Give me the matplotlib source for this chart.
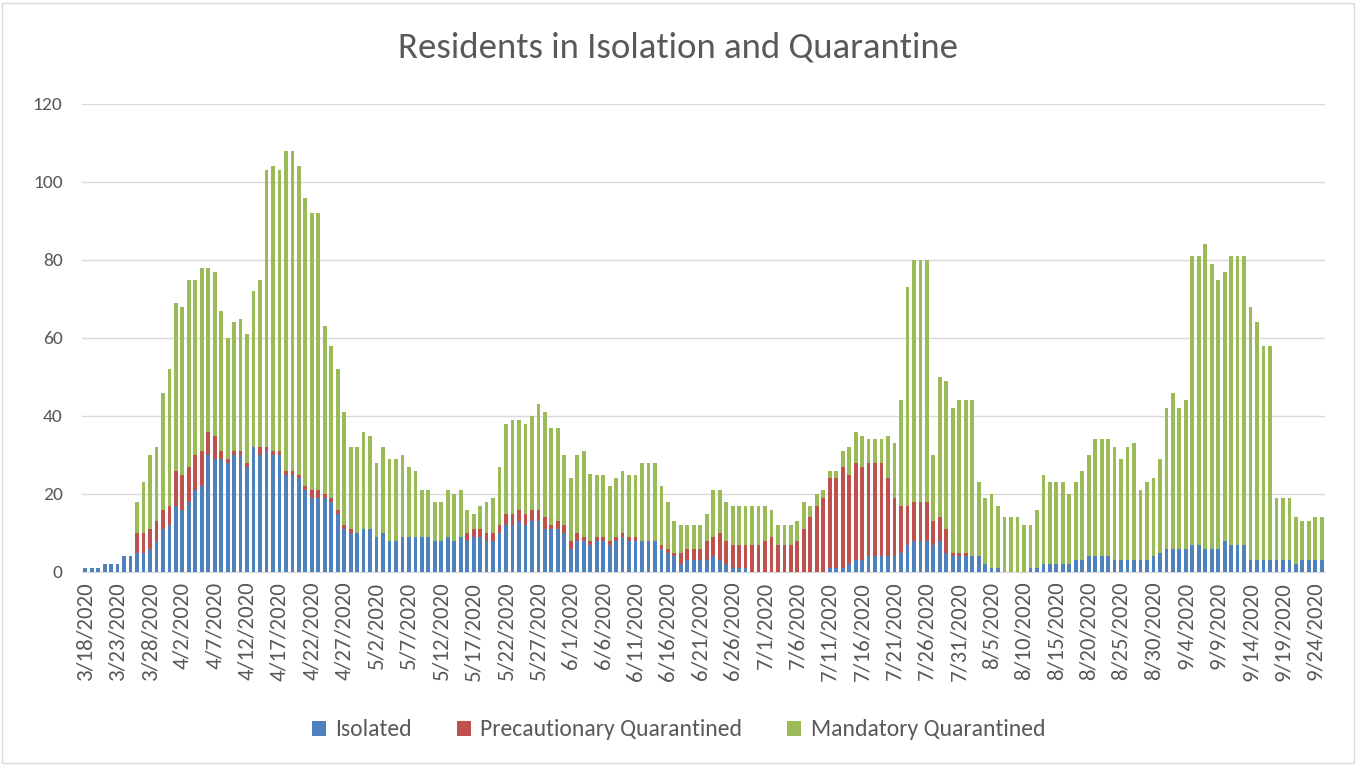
import pandas as pd
import matplotlib.pyplot as plt
from matplotlib.patches import Rectangle

plt.rcParams['font.family'] = ['Calibri', 'Carlito', 'Liberation Sans', 'DejaVu Sans']

start_date = "2020-03-18"

isolated = [1, 1, 1, 2, 2, 2, 4, 4, 5, 5, 6, 8, 11, 12, 17, 16, 18, 21, 22, 30,
            29, 29, 28, 30, 30, 27, 32, 30, 31, 30, 30, 25, 25, 24, 21, 19, 19, 19, 18, 15,
            11, 10, 10, 11, 11, 9, 10, 8, 8, 9, 9, 9, 9, 9, 8, 8, 9, 8, 9, 8,
            9, 9, 8, 8, 10, 12, 12, 13, 12, 13, 13, 11, 11, 11, 10, 6, 8, 8, 7, 8,
            8, 7, 8, 9, 8, 8, 8, 8, 8, 6, 5, 4, 2, 3, 3, 3, 3, 4, 3, 2,
            1, 1, 1, 0, 0, 0, 0, 0, 0, 0, 0, 0, 0, 0, 0, 1, 1, 1, 2, 3,
            3, 4, 4, 4, 4, 4, 5, 7, 8, 8, 8, 7, 8, 5, 4, 4, 4, 4, 4, 2,
            1, 1, 0, 0, 0, 0, 1, 1, 2, 2, 2, 2, 2, 3, 3, 4, 4, 4, 4, 3,
            3, 3, 3, 3, 3, 4, 5, 6, 6, 6, 6, 7, 7, 6, 6, 6, 8, 7, 7, 7,
            3, 3, 3, 3, 3, 3, 3, 2, 3, 3, 3, 3]

precautionary = [0, 0, 0, 0, 0, 0, 0, 0, 5, 5, 5, 5, 5, 5, 9, 9, 9, 9, 9, 6,
                 6, 2, 1, 1, 1, 1, 0, 2, 1, 1, 1, 1, 1, 1, 1, 2, 2, 1, 1, 1,
                 1, 1, 0, 0, 0, 0, 0, 0, 0, 0, 0, 0, 0, 0, 0, 0, 0, 0, 0, 2,
                 2, 2, 2, 2, 2, 3, 3, 3, 3, 3, 3, 3, 1, 2, 2, 2, 2, 1, 1, 1,
                 1, 1, 1, 1, 1, 1, 0, 0, 0, 1, 1, 1, 3, 3, 3, 3, 5, 5, 7, 6,
                 6, 6, 6, 7, 7, 8, 9, 7, 7, 7, 8, 11, 14, 17, 19, 23, 23, 26, 23, 25,
                 24, 24, 24, 24, 20, 15, 12, 10, 10, 10, 10, 6, 6, 6, 1, 1, 1, 0, 0, 0,
                 0, 0, 0, 0, 0, 0, 0, 0, 0, 0, 0, 0, 0, 0, 0, 0, 0, 0, 0, 0,
                 0, 0, 0, 0, 0, 0, 0, 0, 0, 0, 0, 0, 0, 0, 0, 0, 0, 0, 0, 0,
                 0, 0, 0, 0, 0, 0, 0, 0, 0, 0, 0, 0]

mandatory = [0, 0, 0, 0, 0, 0, 0, 0, 8, 13, 19, 19, 30, 35, 43, 43, 48, 45, 47, 42,
             42, 36, 31, 33, 34, 33, 40, 43, 71, 73, 72, 82, 82, 79, 74, 71, 71, 43, 39, 36,
             29, 21, 22, 25, 24, 19, 22, 21, 21, 21, 18, 17, 12, 12, 10, 10, 12, 12, 12, 6,
             4, 6, 8, 9, 15, 23, 24, 23, 23, 24, 27, 27, 25, 24, 18, 16, 20, 22, 17, 16,
             16, 14, 15, 16, 16, 16, 20, 20, 20, 15, 12, 8, 7, 6, 6, 6, 7, 12, 11, 10,
             10, 10, 10, 10, 10, 9, 7, 5, 5, 5, 5, 7, 3, 3, 2, 2, 2, 4, 7, 8,
             8, 6, 6, 6, 11, 14, 27, 56, 62, 62, 62, 17, 36, 38, 37, 39, 39, 40, 19, 17,
             19, 16, 14, 14, 14, 12, 11, 15, 23, 21, 21, 21, 18, 20, 23, 26, 30, 30, 30, 29,
             26, 29, 30, 18, 20, 20, 24, 36, 40, 36, 38, 74, 74, 78, 73, 69, 69, 74, 74, 74,
             65, 61, 55, 55, 16, 16, 16, 12, 10, 10, 11, 11]

dates = pd.date_range(start_date, periods=len(isolated), freq="D")
tick_pos = list(range(0, len(dates), 5))
tick_labels = [f"{dates[i].month}/{dates[i].day}/{dates[i].year}" for i in tick_pos]

blue = "#4F81BD"
red = "#C0504D"
green = "#9BBB59"
text_color = "#595959"

x = list(range(len(isolated)))
bottom2 = [a + b for a, b in zip(isolated, precautionary)]

fig = plt.figure(figsize=(13.57, 7.65), dpi=100)
ax = fig.add_axes([82 / 1357, 1 - 572 / 765, (1325 - 82) / 1357, (572 - 104) / 765])

w = 0.58
ax.bar(x, isolated, width=w, color=blue, label="Isolated", zorder=3)
ax.bar(x, precautionary, width=w, bottom=isolated, color=red,
       label="Precautionary Quarantined", zorder=3)
ax.bar(x, mandatory, width=w, bottom=bottom2, color=green,
       label="Mandatory Quarantined", zorder=3)

ax.set_xlim(-0.5, len(x) - 0.5)
ax.set_ylim(0, 120)
ax.set_yticks(range(0, 121, 20))
ax.yaxis.grid(True, color="#D9D9D9", linewidth=1, zorder=0)
ax.set_xticks(tick_pos)
ax.set_xticklabels(tick_labels, rotation=90)
ax.tick_params(axis="both", length=0, colors=text_color)
ax.tick_params(axis="y", labelsize=14, pad=14)
ax.tick_params(axis="x", labelsize=16.5, pad=7)
for side in ["top", "right", "left"]:
    ax.spines[side].set_visible(False)
ax.spines["bottom"].set_color("#D9D9D9")

fig.text(0.5, 1 - 48 / 765, "Residents in Isolation and Quarantine", ha="center",
         va="center", fontsize=26.5, color=text_color)

fig.legend(loc="center", bbox_to_anchor=(0.5, 1 - 730 / 765), ncol=3, frameon=False,
           fontsize=17, labelcolor=text_color, handlelength=0.6, handleheight=0.6,
           handletextpad=0.4, columnspacing=1.9)

fig.patches.append(Rectangle((2 / 1357, 2 / 765), 1352 / 1357, 760 / 765,
                             transform=fig.transFigure, fill=False,
                             edgecolor="#D9D9D9", linewidth=1))

fig.savefig("out.png", dpi=100)
